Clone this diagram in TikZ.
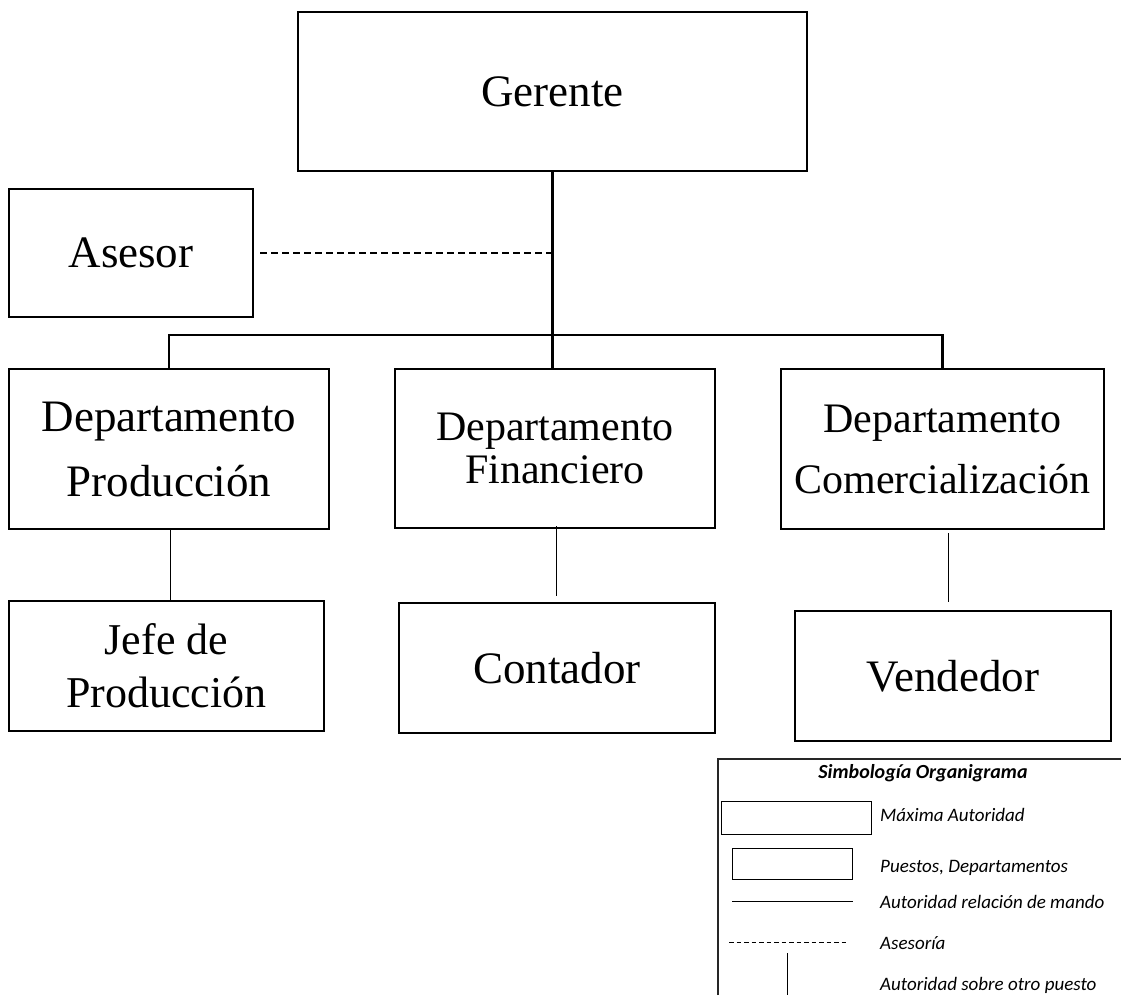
\documentclass[tikz,border=0pt]{standalone}
\usepackage{fontspec}
\setmainfont{Liberation Serif}
\newfontfamily\legfont{Carlito}
\usetikzlibrary{calc}
\begin{document}
\begin{tikzpicture}[x=1pt,y=-1pt,
  box/.style={draw,line width=2.5pt,inner sep=0pt,align=center},
  thick connector/.style={line width=2.5pt},
  thin connector/.style={line width=1pt},
  advice/.style={line width=2.2pt,dash pattern=on 7pt off 4pt},
  legline/.style={line width=1pt},
  legbox/.style={draw,line width=1pt,inner sep=0pt},
  legframe/.style={line width=1.6pt,draw=black!85},
  legtext/.style={anchor=base west,inner sep=0pt,font=\legfont\itshape\fontsize{19}{22}\selectfont},
  legtitle/.style={anchor=base,inner sep=0pt,font=\legfont\bfseries\itshape\fontsize{20}{22}\selectfont}]
\useasboundingbox (0,0) rectangle (1123,995);

% boxes
\node[box,minimum width=509pt,minimum height=159pt,font=\fontsize{45}{45}\selectfont] (ger) at (552.5,91.5) {Gerente};
\node[box,minimum width=244pt,minimum height=128pt,font=\fontsize{45}{45}\selectfont] (ase) at (131,253) {Asesor};
\node[box,minimum width=320pt,minimum height=160pt,font=\fontsize{45}{65}\selectfont] (prod) at (169,449) {Departamento\\Producción};
\node[box,minimum width=320pt,minimum height=159pt,font=\fontsize{42}{43}\selectfont] (fin) at (555,448.5) {Departamento\\Financiero};
\node[box,minimum width=323pt,minimum height=160pt,font=\fontsize{42}{61}\selectfont] (com) at (942.5,449) {Departamento\\Comercialización};
\node[box,minimum width=315pt,minimum height=130pt,font=\fontsize{44}{53}\selectfont] (jefe) at (166.5,666) {Jefe de\\Producción};
\node[box,minimum width=316pt,minimum height=130pt,font=\fontsize{45}{45}\selectfont] (cont) at (557,668) {Contador};
\node[box,minimum width=316pt,minimum height=130pt,font=\fontsize{45}{45}\selectfont] (vend) at (953,676) {Vendedor};

% main connectors
\coordinate (bus) at (552.5,335);
\draw[thick connector] (ger.south) -- (ger.south |- fin.north);
\draw[thick connector] (prod.north) |- (bus) -| (com.north);
\draw[advice] ($(ase.east)+(6,0)$) -- (ase.east -| ger.south);

% thin connectors
\coordinate (p1) at ($(prod.south)+(1.5,0)$);
\draw[thin connector] (p1) -- (p1 |- jefe.north);
\coordinate (f1) at ($(fin.south)+(1,-3)$);
\draw[thin connector,shorten >=6pt] (f1) -- (f1 |- cont.north);
\coordinate (c1) at ($(com.south)+(5.5,3)$);
\draw[thin connector,shorten >=8pt] (c1) -- (c1 |- vend.north);

% legend
\coordinate (lf0) at (718,995);
\coordinate (lf1) at (718,759);
\coordinate (lf2) at (1121,759);
\draw[legframe] (lf0) -- (lf1) -- (lf2);
\node[legtitle] (lt) at (923,778) {Simbología Organigrama};
\node[legbox,minimum width=150pt,minimum height=33pt] (lb1) at (796,817.5) {};
\node[legbox,minimum width=120pt,minimum height=31pt] (lb2) at (792,863.5) {};
\coordinate (ls1) at (732,901); \coordinate (le1) at (853,901);
\draw[legline] (ls1) -- (le1);
\coordinate (ls2) at (729,942); \coordinate (le2) at (847,942);
\draw[legline,dash pattern=on 4.5pt off 3pt] (ls2) -- (le2);
\coordinate (ls3) at (787,953); \coordinate (le3) at (787,995);
\draw[legline] (ls3) -- (le3);
\node[legtext] (t1) at (880,821) {Máxima Autoridad};
\node[legtext] (t2) at (880,872) {Puestos, Departamentos};
\node[legtext] (t3) at (880,908) {Autoridad relación de mando};
\node[legtext] (t4) at (880,949) {Asesoría};
\node[legtext] (t5) at (880,990) {Autoridad sobre otro puesto};
\end{tikzpicture}
\end{document}
